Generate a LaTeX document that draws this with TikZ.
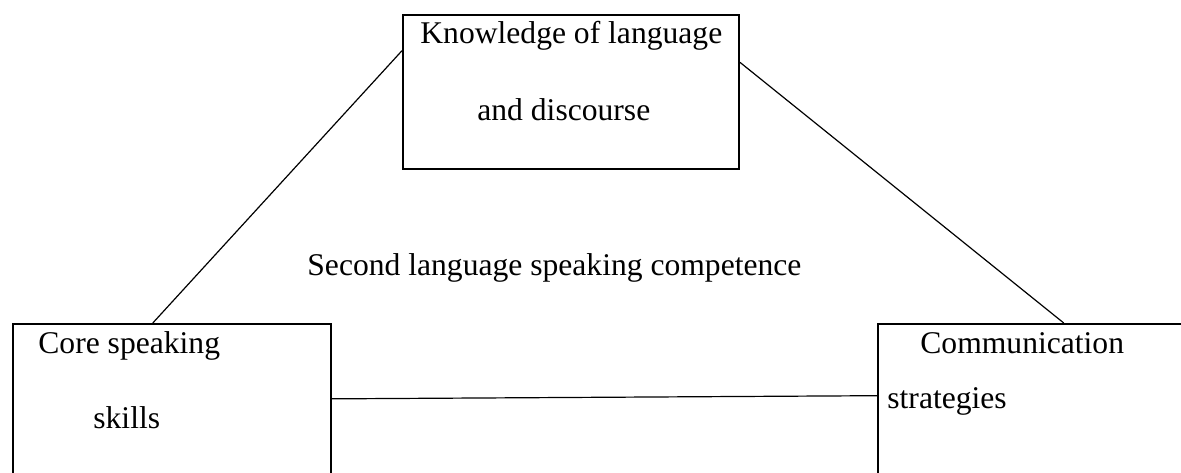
\documentclass[tikz,border=0pt]{standalone}
\usepackage{fontspec}
\setmainfont{Liberation Serif}
\usetikzlibrary{calc}

\tikzset{
  box/.style={draw, line width=1pt, inner sep=0pt, anchor=north west},
  txt/.style={inner sep=0pt, anchor=base west},
  link/.style={line width=0.6pt}
}

\begin{document}
\begin{tikzpicture}[x=0.5pt, y=-0.5pt, every node/.style={font=\fontsize{15.8}{19}\selectfont}]
	\useasboundingbox (0,0) rectangle (1181,472);
	\clip (0,0) rectangle (1181,472);
	% the three boxes
	\node[box, minimum width=168pt, minimum height=77pt] (know) at (402,14) {};
	\node[box, minimum width=159pt, minimum height=78pt] (core) at (12,323) {};
	\node[box, minimum width=160pt, minimum height=78pt] (comm) at (877,323) {};
	% texts
	\node[txt] (knowa) at (420,43) {Knowledge of language};
	\node[txt] (knowb) at (477,120) {and discourse};
	\node[txt] (corea) at (38,353) {Core speaking};
	\node[txt] (coreb) at (93,428) {skills};
	\node[txt] (comma) at (920,353) {Communication};
	\node[txt] (commb) at (887,408) {strategies};
	\node[txt] (title) at (307,275) {Second language speaking competence};
	% links
	\draw[link] ($(know.north west)!0.235!(know.south west)$) -- ($(core.north west)!0.44!(core.north east)$);
	\draw[link] ($(know.north east)!0.31!(know.south east)$) -- ($(comm.north west)!0.58!(comm.north east)$);
	\draw[link] ($(core.north east)!0.48!(core.south east)$) -- ($(comm.north west)!0.46!(comm.south west)$);
\end{tikzpicture}
\end{document}
